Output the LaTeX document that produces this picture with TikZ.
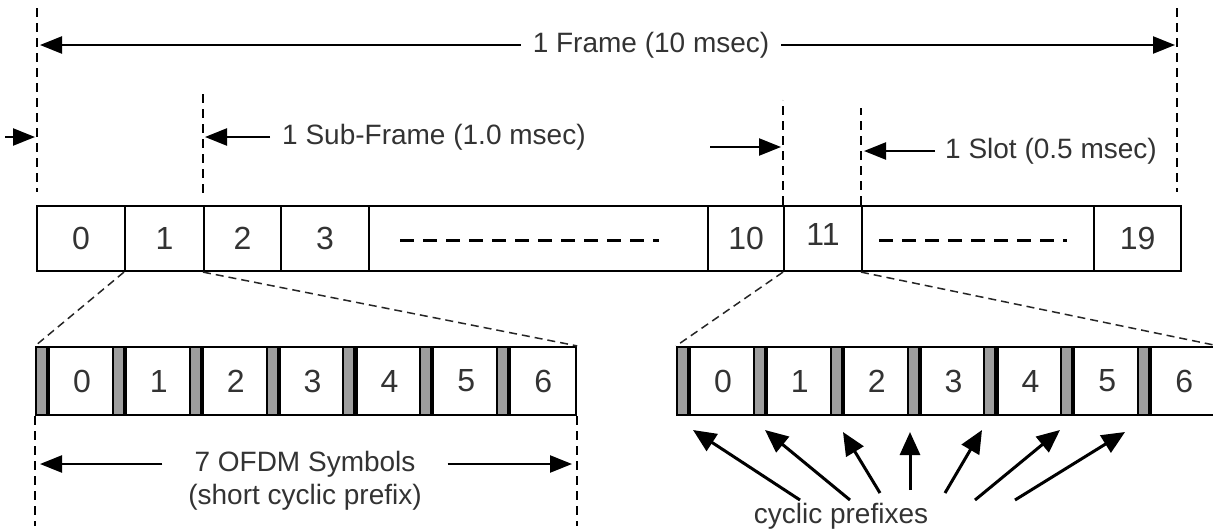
\documentclass[tikz,border=0pt]{standalone}
\usepackage{fontspec}
\setmainfont{Liberation Sans}
\usetikzlibrary{arrows.meta,calc}
\tikzset{
  cell/.style={draw, line width=2.2pt, minimum height=65pt, inner sep=0pt, anchor=west,
    font=\fontsize{32}{36}\selectfont, text=black!80},
  sym/.style={draw, line width=2.2pt, minimum height=68pt, minimum width=65.86pt, inner sep=0pt,
    anchor=west, font=\fontsize{32}{36}\selectfont, text=black!80},
  cpbar/.style={draw, line width=2pt, fill=black!38, minimum height=68pt, minimum width=11pt,
    inner sep=0pt, anchor=east},
  guide/.style={line width=2.2pt, dash pattern=on 9pt off 6pt},
  fill dash/.style={line width=2.2pt, dash pattern=on 14pt off 9pt},
  zoomline/.style={line width=1.5pt, dash pattern=on 8pt off 5pt, black!85},
  dim/.style={line width=2.4pt, -{Triangle[length=22pt,width=17pt]}},
  cparrow/.style={line width=3pt, -{Triangle[length=23pt,width=20pt]}},
  lbl/.style={font=\fontsize{28}{32}\selectfont, text=black!80, inner sep=0pt},
}
\begin{document}
\begin{tikzpicture}[x=1pt,y=-1pt]
\useasboundingbox (0,0) rectangle (1213,531);

% frame of 20 slots
\foreach \l/\r/\t [count=\i from 0] in {36/124/0, 124/203/1, 203/280/2, 280/368/3, 368/707/{},
    707/783/10, 783/861/{\raisebox{8pt}{11}}, 861/1093/{}, 1093/1180/19}
  \node[cell, minimum width={\r-\l}] (f\i) at (\l,238.5) {\t};
\draw[fill dash] ($(f4.west)+(32,2)$) -- ($(f4.east)+(-50,2)$);
\draw[fill dash] ($(f7.west)+(18,2)$) -- ($(f7.east)+(-28,2)$);

% guides above the frame
\coordinate (fl) at (37,8);
\coordinate (fr) at (1177,8);
\draw[guide] (fl) -- (37,192);
\draw[guide] (fr) -- (1177,192);
\draw[guide] (f2.north west) ++(0,-12) -- ++(0,-103);
\draw[guide] (f6.north west) -- ++(0,-105);
\draw[guide] (f7.north west) -- ++(0,-97);

% 1 frame
\node[lbl, inner xsep=12pt] (frame) at (651,45) {1 Frame (10 msec)};
\draw[dim] (frame.west) -- (40,45);
\draw[dim] (frame.east) -- (1175,45);

% 1 sub-frame
\coordinate (sf0) at (5,137);
\draw[dim] (sf0) -- (35,137);
\node[lbl, anchor=west, inner xsep=12pt] (subf) at (270,137) {1 Sub-Frame (1.0 msec)};
\draw[dim] (subf.west) -- (205,137);

% 1 slot
\coordinate (sl0) at (710,147);
\draw[dim] (sl0) -- (781,147);
\node[lbl, anchor=west, inner xsep=10pt] (slot) at (935,151) {1 Slot (0.5 msec)};
\draw[dim] (slot.west) -- (864,151);

% slot with short cyclic prefix
\foreach \i in {0,...,6} {
  \node[sym] (a\i) at ({48+\i*76.857},381) {\i};
  \node[cpbar] (ap\i) at (a\i.west) {};
}
% slot with long cyclic prefix
\foreach \i in {0,...,6} {
  \node[sym] (b\i) at ({689+\i*76.857},381) {\i};
  \node[cpbar] (bp\i) at (b\i.west) {};
}

% zoom lines
\draw[zoomline] (f1.south west) -- (ap0.north west);
\draw[zoomline] (f2.south west) -- (a6.north east);
\draw[zoomline] (f6.south west) -- (bp0.north west);
\draw[zoomline] (f7.south west) -- (b6.north east);

% 7 OFDM symbols
\draw[guide] (ap0.south west) -- ++(0,110);
\draw[guide] (a6.south east) -- ++(0,110);
\node[lbl, inner xsep=32pt] (ofdm) at (305,464) {7 OFDM Symbols};
\node[lbl] (scp) at (305,497) {(short cyclic prefix)};
\draw[dim] (ofdm.west) -- (40,464);
\draw[dim] (ofdm.east) -- (572,464);

% cyclic prefixes
\node[lbl] (cpx) at (841,516) {cyclic prefixes};
\foreach \sx/\sy/\tx/\ty [count=\k] in {800/500/693/430, 850/500/765/430, 880/493/843/432,
    910/490/910/432, 945/493/982/430, 975/500/1060/430, 1015/500/1125/432} {
  \coordinate (cs\k) at (\sx,\sy);
  \coordinate (ct\k) at (\tx,\ty);
  \draw[cparrow] (cs\k) -- (ct\k);
}
\end{tikzpicture}
\end{document}
